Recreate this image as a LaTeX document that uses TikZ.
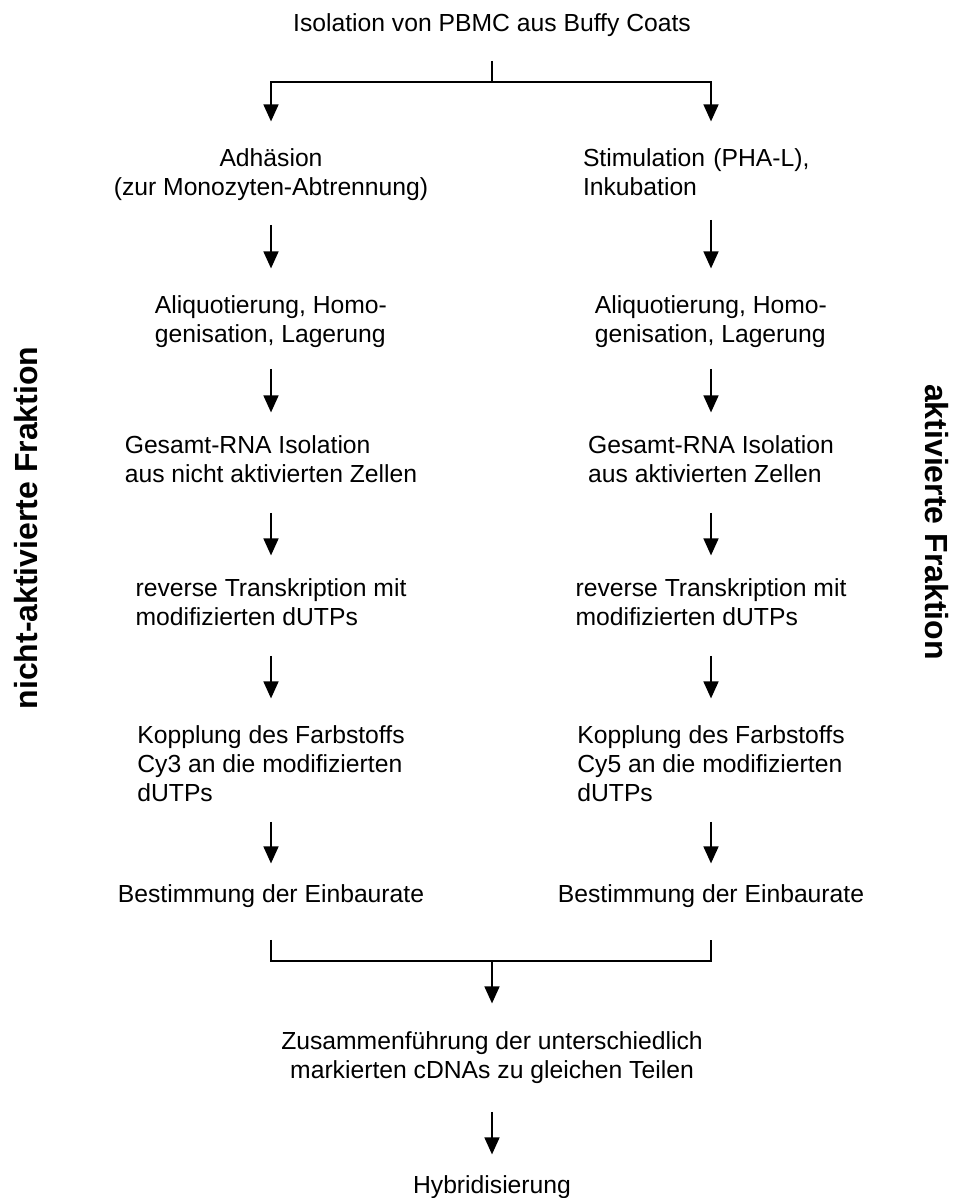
\documentclass[tikz,border=0pt]{standalone}
\usepackage{fontspec}
\setmainfont{Liberation Sans}
\usetikzlibrary{arrows.meta}

\begin{document}
\begin{tikzpicture}[
    % GLOBAL CFG
    x=1pt, y=-1pt,
    font=\fontsize{24.7}{29}\selectfont,
    >={Triangle[length=17pt,width=15pt]},
    % Styles
    stepbox/.style={% For the text of each step
        align=left,
        inner sep=0pt,
        anchor=north,
        },
    fraction/.style={% For the two side labels
        font=\fontsize{32}{38}\selectfont\bfseries,
        inner sep=0pt,
        },
    ArrowS/.style={% Straight arrows between steps
        ->,
        line width=1.6pt,
        shorten <=24pt,
        shorten >=27pt,
        },
    LineB/.style={% Split and merge lines
        line width=1.6pt,
        },
    ]

%Start drawing the thing...
    \useasboundingbox (0,0) rectangle (952,1198);

    % Draw the first and the last steps
    \node [stepbox, align=center] (title) at (492,13.4) {Isolation von PBMC aus Buffy Coats};
    \node [stepbox, align=center] (mix) at (492,1031.4) {Zusammenführung der unterschiedlich\\markierten cDNAs zu gleichen Teilen};
    \node [stepbox, align=center] (hyb) at (492,1175.4) {Hybridisierung};

    % Draw the steps of the not activated cells
    \node [stepbox, align=center] (adh) at (271,148.4) {Adhäsion\\(zur Monozyten-Abtrennung)};
    \node [stepbox] (aliq_l) at (271,295.4) {Aliquotierung, Homo-\\genisation, Lagerung};
    \node [stepbox] (rna_l) at (271,435.4) {Gesamt-RNA Isolation\\aus nicht aktivierten Zellen};
    \node [stepbox] (rt_l) at (271,578.4) {reverse Transkription mit\\modifizierten dUTPs};
    \node [stepbox] (cy3) at (271,725.4) {Kopplung des Farbstoffs\\Cy3 an die modifizierten\\dUTPs};
    \node [stepbox] (rate_l) at (271,884.4) {Bestimmung der Einbaurate};

    % Draw the steps of the activated cells
    \node [stepbox, text width=256pt] (stim) at (711,148.4) {Stimulation (PHA-L),\\Inkubation};
    \node [stepbox] (aliq_r) at (711,295.4) {Aliquotierung, Homo-\\genisation, Lagerung};
    \node [stepbox] (rna_r) at (711,435.4) {Gesamt-RNA Isolation\\aus aktivierten Zellen};
    \node [stepbox] (rt_r) at (711,578.4) {reverse Transkription mit\\modifizierten dUTPs};
    \node [stepbox] (cy5) at (711,725.4) {Kopplung des Farbstoffs\\Cy5 an die modifizierten\\dUTPs};
    \node [stepbox] (rate_r) at (711,884.4) {Bestimmung der Einbaurate};

    % Draw the side labels
    \node [fraction, rotate=90] (frac_l) at (26,528) {nicht-aktivierte Fraktion};
    \node [fraction, rotate=-90] (frac_r) at (937,522) {aktivierte Fraktion};

    % Split and merge points
    \coordinate (split) at (492,82);
    \coordinate (merge) at (492,961);

% Start connecting all.
    % Split
    \draw [LineB, shorten <=24pt] (title) -- (split);
    \draw [ArrowS, shorten <=0pt] (split) -| (adh);
    \draw [ArrowS, shorten <=0pt] (split) -| (stim);

    % Left column
    \draw [ArrowS] (adh) -- (aliq_l);
    \draw [ArrowS, shorten <=21pt, shorten >=23pt] (aliq_l) -- (rna_l);
    \draw [ArrowS, shorten <=30pt, shorten >=23pt] (rna_l) -- (rt_l);
    \draw [ArrowS, shorten <=30pt] (rt_l) -- (cy3);
    \draw [ArrowS, shorten <=20pt, shorten >=21pt] (cy3) -- (rate_l);

    % Right column
    \draw [ArrowS] (stim) -- (aliq_r);
    \draw [ArrowS, shorten <=21pt, shorten >=23pt] (aliq_r) -- (rna_r);
    \draw [ArrowS, shorten <=30pt, shorten >=23pt] (rna_r) -- (rt_r);
    \draw [ArrowS, shorten <=30pt] (rt_r) -- (cy5);
    \draw [ArrowS, shorten <=20pt, shorten >=21pt] (cy5) -- (rate_r);

    % Merge
    \draw [LineB, shorten <=32pt, shorten >=32pt] (rate_l) |- (merge) -| (rate_r);
    \draw [ArrowS, shorten <=0pt, shorten >=28pt] (merge) -- (mix);
    \draw [ArrowS, shorten <=28pt, shorten >=21pt] (mix) -- (hyb);

\end{tikzpicture}
\end{document}
